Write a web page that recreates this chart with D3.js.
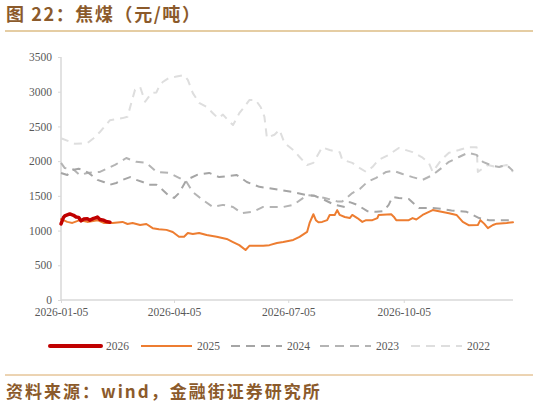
<!DOCTYPE html>
<html>
<head>
<meta charset="utf-8">
<script src="https://cdn.jsdelivr.net/npm/d3@7"></script>
<style>
  body { margin: 0; background: #fff; }
  svg { display: block; }
</style>
</head>
<body>
<svg></svg>
<script>
'use strict';

// series data, dates are month-day laid on the current-year axis
var dates2026 = ['01-05', '01-07', '01-08', '01-10', '01-12', '01-15', '01-17', '01-19', '01-21', '01-23',
    '01-26', '01-28', '01-31', '02-02', '02-03', '02-05', '02-08', '02-10', '02-13'];
var vals2026 = [1095, 1190, 1210, 1225, 1240, 1220, 1195, 1190, 1140, 1165,
    1170, 1150, 1175, 1185, 1195, 1160, 1150, 1130, 1120];

var dates2025 = ['01-05', '01-10', '01-14', '01-20', '01-26', '02-03', '02-08', '02-15', '02-23', '02-27',
    '03-03', '03-09', '03-14', '03-19', '03-24', '03-30', '04-04', '04-09', '04-13', '04-16',
    '04-20', '04-25', '05-01', '05-09', '05-17', '05-22', '05-27', '06-01', '06-04', '06-15',
    '06-20', '06-26', '07-01', '07-09', '07-14', '07-20', '07-22', '07-25', '07-27', '07-29',
    '08-01', '08-05', '08-07', '08-11', '08-13', '08-15', '08-19', '08-23', '08-25', '08-29',
    '09-02', '09-05', '09-10', '09-14', '09-15', '09-25', '09-27', '09-29', '10-09', '10-12',
    '10-15', '10-20', '10-28', '11-04', '11-10', '11-16', '11-21', '11-26', '12-03', '12-05',
    '12-08', '12-11', '12-15', '12-18', '12-26', '12-31'];
var vals2025 = [1165, 1125, 1110, 1150, 1125, 1150, 1110, 1110, 1125, 1095,
    1110, 1080, 1095, 1035, 1020, 1010, 980, 910, 910, 965,
    950, 965, 935, 910, 880, 835, 790, 720, 780, 780,
    790, 820, 835, 865, 910, 980, 1110, 1235, 1150, 1120,
    1125, 1150, 1225, 1225, 1295, 1225, 1195, 1180, 1225, 1180,
    1125, 1150, 1150, 1180, 1225, 1235, 1200, 1150, 1150, 1180,
    1160, 1225, 1295, 1270, 1250, 1225, 1125, 1075, 1080, 1150,
    1100, 1035, 1080, 1100, 1110, 1120];

var dates2024 = ['01-05', '01-10', '01-14', '01-19', '01-23', '01-27', '02-03', '02-08', '02-13', '02-18',
    '02-23', '03-01', '03-06', '03-11', '03-15', '03-22', '03-27', '04-01', '04-05', '04-09',
    '04-15', '04-23', '05-03', '05-11', '05-25', '06-02', '06-12', '06-20', '06-28', '07-09',
    '07-20', '07-26', '08-03', '08-11', '08-19', '08-23', '08-29', '09-06', '09-13', '09-19',
    '09-23', '09-26', '10-01', '10-09', '10-17', '10-28', '11-05', '11-12', '11-24', '12-04',
    '12-12', '12-20', '12-31'];
var vals2024 = [1830, 1800, 1870, 1890, 1870, 1830, 1730, 1700, 1660, 1685,
    1730, 1770, 1730, 1700, 1660, 1660, 1585, 1500, 1470, 1540,
    1730, 1800, 1830, 1770, 1800, 1700, 1630, 1610, 1585, 1555,
    1510, 1500, 1440, 1370, 1340, 1410, 1370, 1280, 1270, 1280,
    1370, 1485, 1470, 1455, 1325, 1325, 1310, 1290, 1270, 1180,
    1150, 1150, 1150];

var dates2023 = ['01-05', '01-08', '01-15', '01-20', '01-26', '02-05', '02-17', '02-26', '03-06', '03-14',
    '03-22', '04-01', '04-09', '04-15', '04-20', '04-28', '05-06', '05-14', '05-22', '05-29',
    '06-07', '06-15', '06-23', '07-01', '07-09', '07-20', '07-26', '08-03', '08-13', '08-17',
    '08-25', '08-31', '09-06', '09-13', '09-21', '09-27', '10-04', '10-12', '10-20', '10-28',
    '11-04', '11-10', '11-18', '11-25', '12-02', '12-07', '12-15', '12-20', '12-26', '12-31'];
var vals2023 = [1975, 1900, 1880, 1800, 1830, 1845, 1945, 2045, 1990, 1975,
    1845, 1830, 1760, 1700, 1555, 1440, 1340, 1370, 1340, 1250,
    1270, 1340, 1340, 1340, 1370, 1510, 1500, 1470, 1420, 1420,
    1540, 1600, 1700, 1760, 1845, 1860, 1815, 1770, 1730, 1800,
    1900, 1990, 2060, 2120, 2090, 1990, 1930, 1915, 1945, 1860];

var dates2022 = ['01-05', '01-12', '01-16', '01-26', '01-31', '02-05', '02-13', '02-23', '02-27', '03-02',
    '03-05', '03-09', '03-13', '03-18', '03-22', '03-24', '03-27', '04-01', '04-06', '04-13',
    '04-16', '04-20', '04-25', '05-01', '05-06', '05-10', '05-14', '05-18', '05-22', '05-27',
    '05-31', '06-04', '06-09', '06-13', '06-16', '06-18', '06-24', '06-28', '07-02', '07-09',
    '07-14', '07-20', '07-25', '08-01', '08-07', '08-15', '08-17', '08-25', '08-31', '09-05',
    '09-10', '09-15', '09-23', '10-01', '10-12', '10-20', '10-25', '10-28', '11-04', '11-10',
    '11-18', '11-25', '12-02', '12-03', '12-11', '12-18', '12-26', '12-31'];
var vals2022 = [2330, 2280, 2250, 2260, 2330, 2420, 2590, 2620, 2640, 2840,
    3030, 3070, 2855, 2980, 2990, 3070, 3140, 3200, 3215, 3240,
    3170, 2980, 2840, 2780, 2690, 2620, 2670, 2590, 2520, 2690,
    2780, 2880, 2880, 2780, 2640, 2335, 2380, 2450, 2260, 2160,
    2060, 1945, 1975, 2200, 2160, 2130, 2020, 1975, 1900, 1845,
    1915, 2020, 2090, 2190, 2130, 2050, 1975, 1845, 2020, 2120,
    2160, 2200, 2200, 1845, 1945, 1915, 1945, 1845];

var yTicks = [0, 500, 1000, 1500, 2000, 2500, 3000, 3500];
var xTicks = ['01-05', '04-05', '07-05', '10-05'];

var seriesNames = ['2026', '2025', '2024', '2023', '2022'];
var seriesDates = [dates2026, dates2025, dates2024, dates2023, dates2022];
var seriesVals = [vals2026, vals2025, vals2024, vals2023, vals2022];

// styles per series
var styles = {
    '2026': { color: '#c00000', width: 3.5, dash: null },
    '2025': { color: '#ed7d31', width: 2, dash: null },
    '2024': { color: '#a5a5a5', width: 2, dash: '8,6' },
    '2023': { color: '#b4b4b4', width: 2, dash: '8,6' },
    '2022': { color: '#dedede', width: 2, dash: '8,6' }
};

var canvasWidth = 538;
var canvasHeight = 407;
var svg = d3.select('svg')
    .attr('width', canvasWidth)
    .attr('height', canvasHeight);

var parseDay = d3.timeParse('%Y-%m-%d');
function toDate(md) {
    return parseDay('2026-' + md);
}

var xScale = d3.scaleTime()
    .domain([toDate('01-05'), toDate('12-31')])
    .range([61, 513]);
var yScale = d3.scaleLinear()
    .domain([0, 3500])
    .range([300, 57]);

var brown = '#8b5a2b';
var gold = '#dcbd84';
var labelFont = '"Liberation Serif", "Times New Roman", serif';
var cnFont = '"Noto Sans CJK SC", "Noto Sans", sans-serif';

// title + rules
svg.append('text')
    .attr('x', 6)
    .attr('y', 21)
    .attr('font-family', cnFont)
    .attr('font-weight', 'bold')
    .attr('font-size', 18)
    .attr('letter-spacing', 1.6)
    .attr('fill', brown)
    .text('图 22：焦煤（元/吨）');

svg.append('line')
    .attr('x1', 5).attr('x2', 533)
    .attr('y1', 31).attr('y2', 31)
    .attr('stroke', gold)
    .attr('stroke-width', 1.5);

svg.append('line')
    .attr('x1', 5).attr('x2', 533)
    .attr('y1', 375).attr('y2', 375)
    .attr('stroke', '#d9a866')
    .attr('stroke-width', 1);

svg.append('text')
    .attr('x', 6)
    .attr('y', 398)
    .attr('font-family', cnFont)
    .attr('font-weight', 'bold')
    .attr('font-size', 17)
    .attr('letter-spacing', 2)
    .attr('fill', brown)
    .text('资料来源：wind，金融街证券研究所');

// axes
var yAxis = d3.axisLeft(yScale)
    .tickValues(yTicks)
    .tickSize(3)
    .tickPadding(6)
    .tickFormat(d3.format('d'));
var gy = svg.append('g')
    .attr('transform', 'translate(61,0)')
    .call(yAxis);

var xAxis = d3.axisBottom(xScale)
    .tickValues(xTicks.map(toDate))
    .tickSize(3)
    .tickPadding(5)
    .tickFormat(d3.timeFormat('%Y-%m-%d'));
var gx = svg.append('g')
    .attr('transform', 'translate(0,300)')
    .call(xAxis);

[gx, gy].forEach(function (g) {
    g.select('.domain').attr('stroke', '#d9d9d9').attr('stroke-width', 1.5);
    g.selectAll('.tick line').attr('stroke', '#d9d9d9');
    g.selectAll('.tick text')
        .attr('font-family', labelFont)
        .attr('font-size', 11.5)
        .attr('fill', '#595959');
});
gy.select('.domain').attr('d', 'M0,57V300');
gx.select('.domain').attr('d', 'M61,0H513');

// lines, oldest first so 2026 ends on top
var line = d3.line()
    .x(function (d) { return xScale(d.date); })
    .y(function (d) { return yScale(d.value); });

var order = seriesNames.slice().reverse();
order.forEach(function (name) {
    var i = seriesNames.indexOf(name);
    var pts = seriesDates[i].map(function (md, j) {
        return { date: toDate(md), value: seriesVals[i][j] };
    });
    var s = styles[name];
    svg.append('path')
        .datum(pts)
        .attr('fill', 'none')
        .attr('stroke', s.color)
        .attr('stroke-width', s.width)
        .attr('stroke-dasharray', s.dash)
        .attr('stroke-linejoin', 'round')
        .attr('stroke-linecap', s.dash ? 'butt' : 'round')
        .attr('d', line);
});

// legend
var legendX = [50, 141, 231, 320, 411];
var legend = svg.append('g')
    .selectAll('g')
    .data(seriesNames)
    .enter()
    .append('g')
    .attr('transform', function (d, i) {
        return 'translate(' + legendX[i] + ',346)';
    });

legend.append('line')
    .attr('x1', 0).attr('x2', 51)
    .attr('y1', 0).attr('y2', 0)
    .attr('stroke', function (d) { return styles[d].color; })
    .attr('stroke-width', function (d) { return d == '2026' ? 4 : 2; })
    .attr('stroke-linecap', function (d) { return d == '2026' ? 'round' : 'butt'; })
    .attr('stroke-dasharray', function (d) { return styles[d].dash ? '9,6' : null; });

legend.append('text')
    .attr('x', 56)
    .attr('y', 4)
    .attr('font-family', labelFont)
    .attr('font-size', 11.5)
    .attr('fill', '#595959')
    .text(function (d) { return d; });
</script>
</body>
</html>
